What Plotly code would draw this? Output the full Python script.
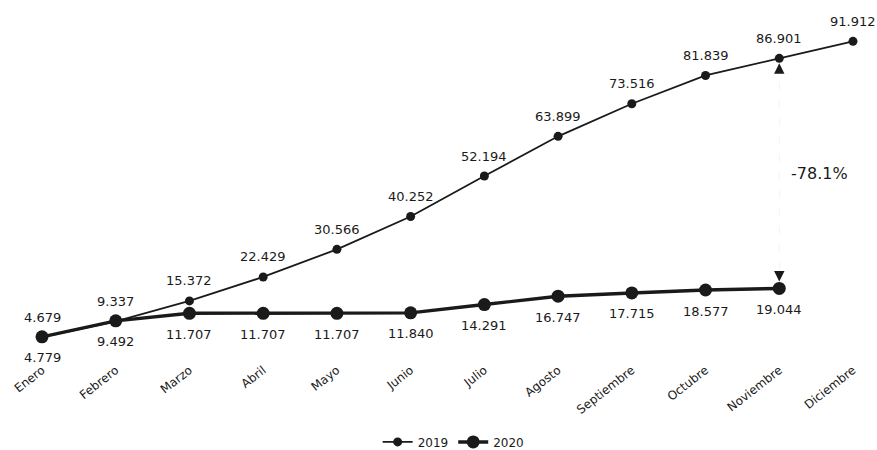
import plotly.graph_objects as go

months = ["Enero", "Febrero", "Marzo", "Abril", "Mayo", "Junio", "Julio",
          "Agosto", "Septiembre", "Octubre", "Noviembre", "Diciembre"]
v2019 = [4.679, 9.337, 15.372, 22.429, 30.566, 40.252, 52.194, 63.899,
         73.516, 81.839, 86.901, 91.912]
v2020 = [4.779, 9.492, 11.707, 11.707, 11.707, 11.840, 14.291, 16.747,
         17.715, 18.577, 19.044]
lab2019 = ["4.679", "9.337", "15.372", "22.429", "30.566", "40.252", "52.194",
           "63.899", "73.516", "81.839", "86.901", "91.912"]
lab2020 = ["4.779", "9.492", "11.707", "11.707", "11.707", "11.840", "14.291",
           "16.747", "17.715", "18.577", "19.044"]
change_label = "-78.1%"

FONT = "DejaVu Sans, Verdana, sans-serif"
INK = "#1a1a1a"

fig = go.Figure()
fig.add_trace(go.Scatter(
    x=months, y=v2019, name="2019", mode="lines+markers",
    line=dict(color=INK, width=1.8),
    marker=dict(color=INK, size=9),
))
fig.add_trace(go.Scatter(
    x=months[:len(v2020)], y=v2020, name="2020", mode="lines+markers",
    line=dict(color=INK, width=3.4),
    marker=dict(color=INK, size=13),
))

anns = []
for m, v, t in zip(months, v2019, lab2019):
    anns.append(dict(x=m, y=v, text=t, showarrow=False, yshift=20,
                     font=dict(family=FONT, size=13, color=INK)))
for m, v, t in zip(months, v2020, lab2020):
    anns.append(dict(x=m, y=v, text=t, showarrow=False, yshift=-21,
                     font=dict(family=FONT, size=13, color=INK)))

i_nov = len(v2020) - 1
nov = months[i_nov]
# arrow heads of the comparison marker
anns.append(dict(x=nov, y=v2019[i_nov], text="", showarrow=True, ax=0, ay=16,
                 standoff=5, arrowhead=2, arrowsize=1.3, arrowwidth=1.6,
                 arrowcolor=INK))
anns.append(dict(x=nov, y=v2020[i_nov], text="", showarrow=True, ax=0, ay=-16,
                 standoff=7, arrowhead=2, arrowsize=1.3, arrowwidth=1.6,
                 arrowcolor=INK))
anns.append(dict(x=nov, y=(v2019[i_nov] + v2020[i_nov]) / 2, text=change_label,
                 showarrow=False, xshift=40,
                 font=dict(family=FONT, size=16, color=INK)))
fig.update_layout(annotations=anns)

fig.add_shape(type="line", x0=i_nov, x1=i_nov, y0=v2020[i_nov], y1=v2019[i_nov],
              xref="x", yref="y", line=dict(color="#f4f4f4", width=1, dash="dash"),
              layer="below")

fig.update_layout(
    width=877, height=450,
    margin=dict(l=20, r=10, t=20, b=90, autoexpand=False),
    paper_bgcolor="white", plot_bgcolor="white",
    showlegend=True,
    legend=dict(orientation="h", x=0.512, xanchor="center", y=-0.241,
                yanchor="middle", font=dict(family=FONT, size=12, color=INK)),
    xaxis=dict(type="category", range=[-0.2985, 11.19], showgrid=False,
               zeroline=False, showline=False, ticks="", tickangle=-38,
               automargin=False,
               tickfont=dict(family=FONT, size=12, color=INK)),
    yaxis=dict(range=[-2.06, 98.2], showgrid=False, zeroline=False,
               showline=False, showticklabels=False, ticks="", automargin=False),
)

fig.write_html("out.html")
